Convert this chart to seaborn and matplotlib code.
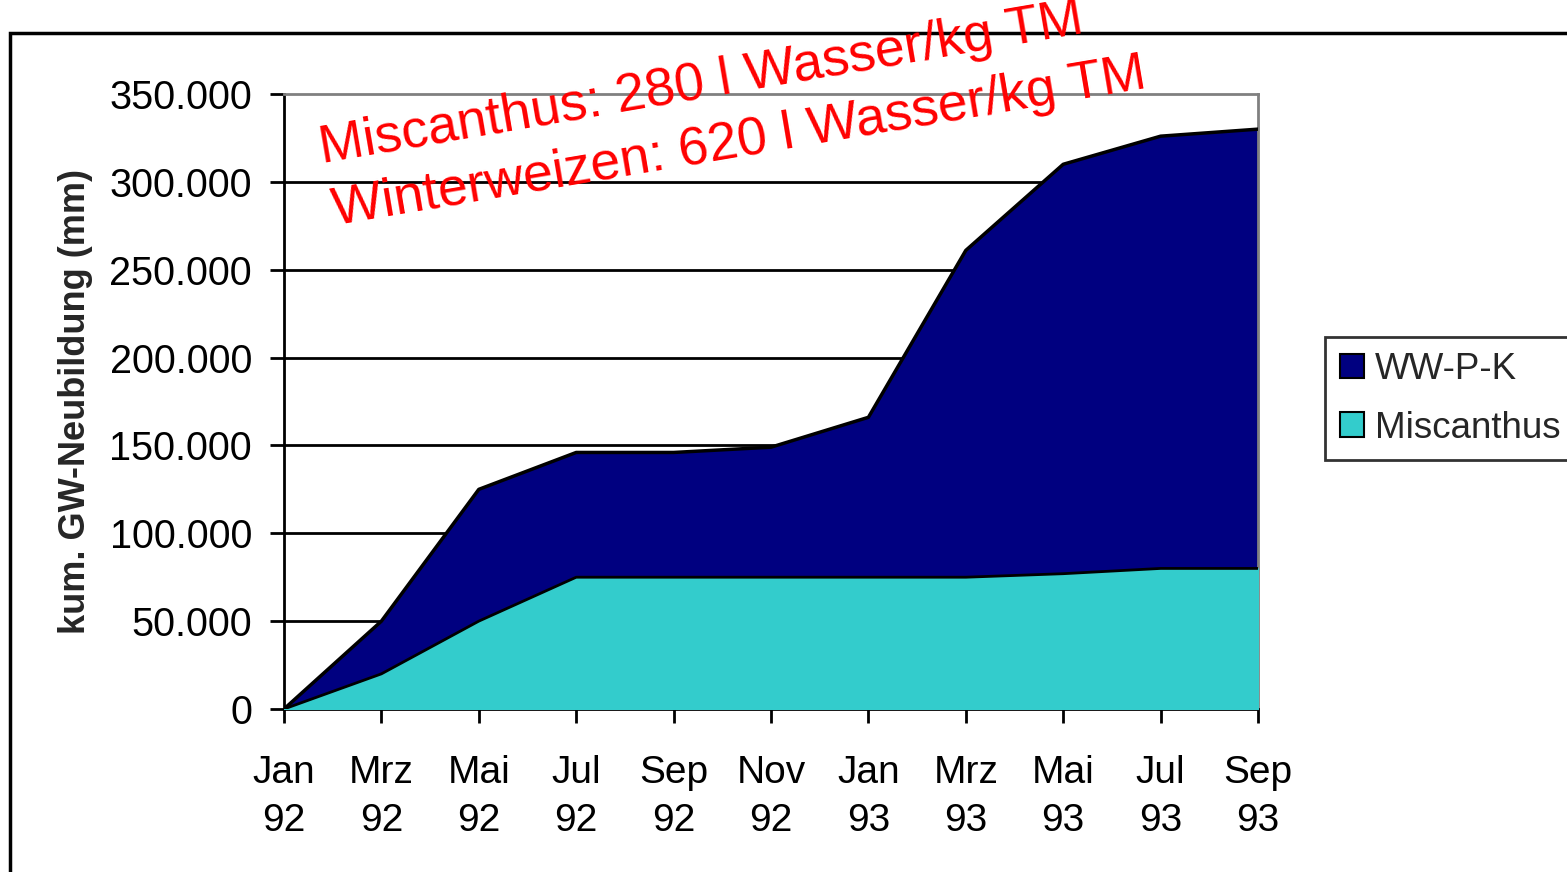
import numpy as np
import pandas as pd
import matplotlib.pyplot as plt
from matplotlib.patches import Rectangle
import seaborn as sns

sns.set_theme(style="white")
plt.rcParams['font.family'] = ['Liberation Sans', 'DejaVu Sans']

# Daten (kumulative GW-Neubildung)
monate = ["Jan\n92", "Mrz\n92", "Mai\n92", "Jul\n92", "Sep\n92", "Nov\n92",
          "Jan\n93", "Mrz\n93", "Mai\n93", "Jul\n93", "Sep\n93"]
ww_p_k = [0, 50, 125, 146, 146, 149, 166, 261, 310, 326, 330]
miscanthus = [0, 20, 50, 75, 75, 75, 75, 75, 77, 80, 80]
y_ticks = [0, 50, 100, 150, 200, 250, 300, 350]
y_tick_labels = ["0", "50.000", "100.000", "150.000", "200.000", "250.000", "300.000", "350.000"]

df = pd.DataFrame({"Monat": monate, "idx": np.arange(len(monate)),
                   "WW-P-K": ww_p_k, "Miscanthus": miscanthus})

fig = plt.figure(figsize=(15.67, 8.72), dpi=100)
ax = fig.add_axes([284 / 1567, 1 - 709 / 872, (1258 - 284) / 1567, (709 - 94) / 872])

# Rahmen um die Folie
fig.patches.append(Rectangle((10 / 1567, -0.2), 1.2, 1 - 33 / 872 + 0.2,
                             transform=fig.transFigure, fill=False,
                             edgecolor='black', linewidth=2.5, zorder=0))

# Flaechen
ax.fill_between(df["idx"], df["WW-P-K"], color='#000080', zorder=2, label="WW-P-K")
sns.lineplot(data=df, x="idx", y="WW-P-K", color='black', linewidth=2.5, ax=ax,
             zorder=3, legend=False)
ax.fill_between(df["idx"], df["Miscanthus"], color='#33CCCC', zorder=4, label="Miscanthus")
sns.lineplot(data=df, x="idx", y="Miscanthus", color='black', linewidth=2, ax=ax,
             zorder=5, legend=False)

ax.set_xlim(0, len(monate) - 1)
ax.set_ylim(0, 350)
ax.set_xticks(df["idx"])
ax.set_xticklabels(monate, fontsize=28, linespacing=1.45)
ax.set_yticks(y_ticks)
ax.set_yticklabels(y_tick_labels, fontsize=28.5)
ax.set_xlabel("")
ax.set_ylabel("kum. GW-Neubildung (mm)", fontsize=26, fontweight='bold', labelpad=12)

for y in y_ticks[1:-1]:
    ax.axhline(y, color='black', linewidth=2, zorder=1)

ax.tick_params(axis='both', which='both', direction='out', length=10, width=2,
               color='black', labelcolor='black', bottom=True, left=True)
ax.tick_params(axis='x', pad=23)
ax.tick_params(axis='y', pad=13)

ax.spines['left'].set_color('black')
ax.spines['left'].set_linewidth(2)
ax.spines['bottom'].set_color('black')
ax.spines['bottom'].set_linewidth(2)
ax.spines['top'].set_color('#808080')
ax.spines['top'].set_linewidth(2)
ax.spines['right'].set_color('#808080')
ax.spines['right'].set_linewidth(2)
ax.set_facecolor('white')

# Legende
handles, labels = ax.get_legend_handles_labels()
leg = fig.legend(handles, labels, loc='upper left',
                 bbox_to_anchor=(1325 / 1567, 1 - 337 / 872), borderaxespad=0,
                 fontsize=26.5, frameon=True, fancybox=False, edgecolor='black',
                 handlelength=0.65, handleheight=0.65, handletextpad=0.3,
                 labelspacing=0.65, borderpad=0.4)
leg.get_frame().set_linewidth(2)
for h in leg.legend_handles:
    h.set_edgecolor('black')
    h.set_linewidth(1.5)

# Rote Anmerkungen
fig.text(322 / 1567, 1 - 163 / 872, "Miscanthus: 280 l Wasser/kg TM", color='red',
         fontsize=38.5, rotation=9.7, rotation_mode='anchor', ha='left', va='baseline')
fig.text(335 / 1567, 1 - 225 / 872, "Winterweizen: 620 l Wasser/kg TM", color='red',
         fontsize=38.5, rotation=9.6, rotation_mode='anchor', ha='left', va='baseline')

fig.savefig("out.png", dpi=100, facecolor='white')
